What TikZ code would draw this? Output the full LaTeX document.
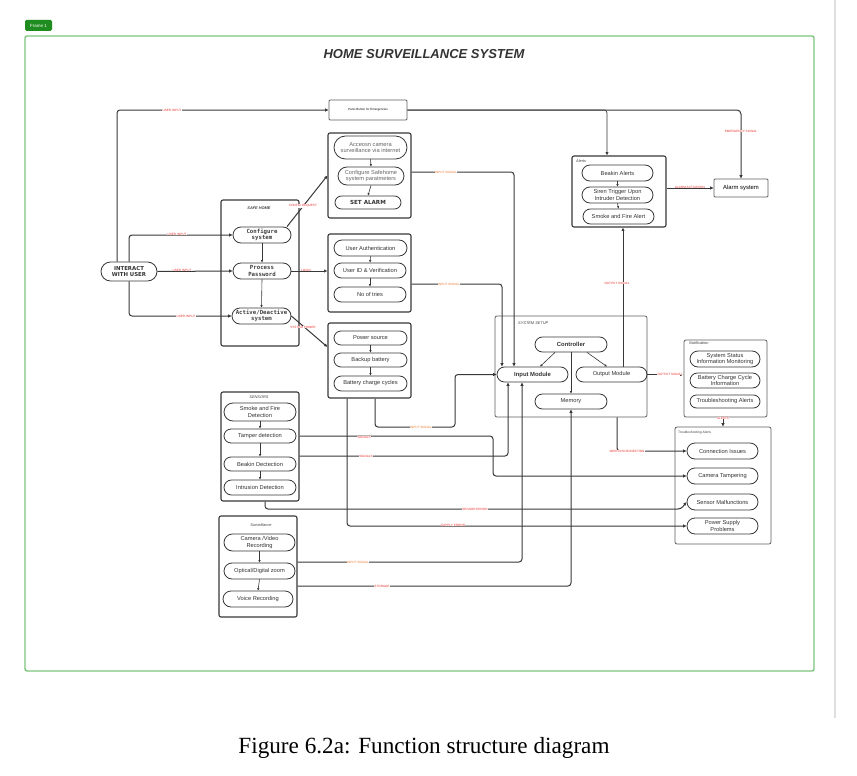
\documentclass[tikz,border=0pt]{standalone}
\usepackage{fontspec}
\setmainfont{Liberation Sans}
\newfontfamily\seriffont{Liberation Serif}
\newfontfamily\monobold{DejaVu Sans Mono}
\newfontfamily\djv{DejaVu Sans}
\usetikzlibrary{shapes.misc,arrows.meta}
\definecolor{ln}{HTML}{383838}
\definecolor{frgreen}{HTML}{7CC47C}
\definecolor{tagreen}{HTML}{1E8C1E}
\definecolor{lblred}{HTML}{E8302A}
\definecolor{lblorange}{HTML}{E8762A}
\newcommand\bx[7][]{\node[#1, minimum width={(#5-#3)*1pt}, minimum height={(#6-#4)*1pt}] (#2) at ({(#3+#5)/2},{(#4+#6)/2}) {#7};}
\begin{document}
\begin{tikzpicture}[x=1pt,y=-1pt,
  font=\fontsize{5.7}{6.5}\selectfont,
  grp/.style={draw=ln, line width=1.1pt, rounded corners=2pt, inner sep=0pt},
  pill/.style={draw=ln, line width=0.8pt, rounded rectangle, inner sep=0pt, align=center, text=black!80},
  plainbox/.style={draw=ln!80, line width=0.8pt, rounded corners=1pt, inner sep=0pt, align=center},
  conn/.style={draw=ln, line width=1pt, rounded corners=3pt, -{Latex[length=3.4pt,width=3.4pt]}},
  inarr/.style={draw=ln, line width=0.6pt, -{Latex[length=2.4pt,width=2.4pt]}},
  lbl/.style={text=lblred, font=\fontsize{3.1}{3.2}\selectfont, fill=white, inner sep=0.3pt},
  olbl/.style={lbl, text=lblorange},
  glbl/.style={font=\fontsize{3.9}{4}\selectfont\itshape, text=black!75, inner sep=0pt},
  mono/.style={font=\monobold\bfseries\fontsize{5.7}{6.3}\selectfont, text=black!75},
]
\useasboundingbox (0,0) rectangle (857,776);
\fill[white] (0,0) rectangle (857,776);
\draw[gray!25, line width=1.2pt] (835,0) -- (835,718);
% frame
\draw[frgreen, line width=1.4pt, rounded corners=2pt] (25,36) rectangle (814,671);
\node[fill=tagreen, rounded corners=1.5pt, text=white, font=\fontsize{4.5}{5}\selectfont, minimum width=27pt, minimum height=11pt, inner sep=0pt] (tag) at (38.5,25.5) {Frame 1};
% title
\node[font=\bfseries\itshape\fontsize{13}{15}\selectfont, text=black!80] (title) at (424,54) {HOME SURVEILLANCE SYSTEM};
\node[font=\seriffont\fontsize{23.2}{26}\selectfont] (cap) at (424,748) {Figure 6.2a: Function structure diagram};

% panic + alarm
\bx[plainbox, font=\fontsize{3}{3.5}\selectfont]{pb}{329}{100}{407}{120}{Panic Button for Emergencies}
\bx[plainbox, font=\fontsize{5.9}{6.5}\selectfont]{am}{714}{179}{768}{197}{Alarm system}

% access group
\bx[grp]{ag}{328}{133}{411}{218}{}
\bx[pill, text=black!60]{acc}{334}{136}{407}{159}{Acceosn camera\\surveillance via internet}
\bx[pill, text=black!60]{cfgsp}{338}{167}{404}{185}{Configure Safehome\\system paratmeters}
\bx[pill, font=\djv\bfseries\fontsize{5.6}{6}\selectfont]{set}{335}{196}{401}{209}{SET ALARM}
\draw[inarr] (acc.south) -- (cfgsp.north);
\draw[inarr] (cfgsp.south) -- (set.north);

% alerts
\bx[grp]{alr}{572}{156}{666}{227}{}
\node[glbl, anchor=west] (alrl) at (576,161) {Alerts};
\bx[pill]{ba}{582}{165}{653}{181}{Beakin Alerts}
\bx[pill]{st}{582}{187}{653}{203}{Siren Trigger Upon\\Intruder Detection}
\bx[pill]{sfa}{583}{209}{654}{224}{Smoke and Fire Alert}
\draw[inarr] (ba.south) -- (st.north);
\draw[inarr] (st.south) -- (sfa.north);

% safe home
\bx[grp]{sh}{221}{200}{299}{346}{}
\node[glbl, font=\fontsize{3.9}{4}\selectfont\bfseries\itshape] (shl) at (259,208) {SAFE HOME};
\bx[pill, mono]{cs}{233}{227}{291}{243}{Configure\\system}
\bx[pill, mono]{pp}{233}{263}{291}{279}{Process\\Password}
\bx[pill, mono]{ad}{232}{308}{291}{324}{Active/Deactive\\system}
\draw[inarr] (cs.south) -- (pp.north);
\draw[inarr] (pp.south) -- (ad.north);
\bx[pill, font=\djv\bfseries\fontsize{5.4}{6.4}\selectfont]{iu}{101}{262}{157}{281}{INTERACT\\WITH USER}

% auth group
\bx[grp]{au}{328}{234}{411}{312}{}
\bx[pill]{ua}{334}{240}{407}{256}{User Authentication}
\bx[pill]{uid}{334}{263}{406}{278}{User ID \& Verification}
\bx[pill]{tries}{334}{287}{406}{302}{No of tries}
\draw[inarr] (ua.south) -- (uid.north);
\draw[inarr] (uid.south) -- (tries.north);

% power group
\bx[grp]{pw}{328}{323}{411}{398}{}
\bx[pill]{ps}{334}{331}{407}{345}{Power source}
\bx[pill]{bb}{334}{353}{407}{367}{Backup battery}
\bx[pill]{bcc}{334}{376}{407}{391}{Battery charge cycles}
\draw[inarr] (ps.south) -- (bb.north);
\draw[inarr] (bb.south) -- (bcc.north);

% system setup
\bx[grp, draw=ln!80, line width=0.8pt]{ss}{495}{316}{647}{417}{}
\node[glbl, anchor=west] (ssl) at (518,323) {SYSTEM SETUP};
\bx[pill, font=\bfseries\fontsize{5.9}{6.5}\selectfont]{ct}{535}{337}{607}{352}{Controller}
\bx[pill, font=\bfseries\fontsize{5.9}{6.5}\selectfont]{im}{497}{367}{568}{382}{Input Module}
\bx[pill]{om}{576}{367}{647}{382}{Output Module}
\bx[pill]{mem}{535}{394}{607}{409}{Memory}
\draw[inarr] (555,0 |- ct.south) -- (540,0 |- im.north);
\draw[inarr] (587,0 |- ct.south) -- (607,0 |- om.north);
\draw[inarr] (ct.south) -- (mem.north);

% notification
\bx[grp, draw=ln!80, line width=0.8pt]{ntf}{684}{340}{767}{417}{}
\node[glbl, anchor=west] (ntfl) at (689,343) {Notification};
\bx[pill]{ssi}{690}{351}{760}{367}{System Status\\Information Monitoring}
\bx[pill]{bci}{690}{373}{760}{388}{Battery Charge Cycle\\Information}
\bx[pill]{tsa}{690}{395}{760}{408}{Troubleshooting Alerts}

% troubleshooting
\bx[grp, draw=ln!80, line width=0.8pt]{tr}{675}{427}{771}{544}{}
\node[glbl, font=\fontsize{3.3}{4}\selectfont, anchor=west] (trl) at (678,433) {Troubleshooting Alerts};
\bx[pill]{ci}{687}{443}{758}{459}{Connection Issues}
\bx[pill]{ctp}{687}{468}{758}{484}{Camera Tampering}
\bx[pill]{sm}{687}{494}{758}{510}{Sensor Malfunctions}
\bx[pill]{psp}{687}{518}{758}{534}{Power Supply\\Problems}

% sensors
\bx[grp]{sen}{221}{392}{299}{501}{}
\node[glbl] (senl) at (259,397) {SENSORS};
\bx[pill]{sfd}{224}{403}{296}{421}{Smoke and Fire\\Detection}
\bx[pill]{td}{224}{429}{296}{443}{Tamper detection}
\bx[pill]{bd}{224}{457}{296}{471}{Beakin Dectection}
\bx[pill]{idt}{224}{480}{296}{495}{Intrusion Detection}
\draw[inarr] (sfd.south) -- (td.north);
\draw[inarr] (td.south) -- (bd.north);
\draw[inarr] (bd.south) -- (idt.north);

% surveillance
\bx[grp]{sur}{219}{516}{297}{617}{}
\node[glbl] (surl) at (261,525) {Surveillance};
\bx[pill]{cv}{224}{534}{295}{551}{Camera /Video\\Recording}
\bx[pill]{oz}{224}{563}{295}{579}{Optical/Digital zoom}
\bx[pill]{vr}{223}{591}{293}{607}{Voice Recording}
\draw[inarr] (cv.south) -- (oz.north);
\draw[inarr] (oz.south) -- (vr.north);

% ---------- connectors ----------
\draw[conn] (117,0 |- iu.north) |- (pb.west);
\node[lbl] at (172,110) {USER INPUT};
\draw[conn, rounded corners=4pt] (pb.east) -| (am.north);
\draw[conn, line width=0.7pt] (pb.east) -| (607,0 |- alr.north);
\node[lbl] at (741,131) {EMERGENCY SIGNAL};
\draw[conn] (alr.east |- am.west) -- (am.west);
\node[lbl] at (690,187) {ALARM ACTIVATION};

\draw[conn] (iu.north) |- (cs.west);
\node[lbl] at (177,234) {USER INPUT};
\draw[conn] (iu.east) -- (pp.west);
\node[lbl] at (182,270) {USER INPUT};
\draw[conn] (iu.south) |- (ad.west);
\node[lbl] at (186,316) {USER INPUT};

\draw[conn] (287,0 |- cs.north) -- (ag.west);
\node[lbl] at (303,206) {CONFIG REQUEST};
\draw[conn] (pp.east) -- (pp.east -| au.west);
\node[lbl] at (306,270) {LOGIN};
\draw[conn] (ad.east) -- (pw.west |- 0,347);
\node[lbl] at (303,327) {SYSTEM POWER};

\draw[conn] (ag.east |- 0,172) -| (514,0 |- im.north);
\node[olbl] at (446,172) {INPUT SIGNAL};
\draw[conn] (au.east |- 0,284) -| (502,0 |- im.north);
\node[olbl] at (449,284) {INPUT SIGNAL};
\draw[conn] (375,0 |- pw.south) |- (455,427) |- (im.west);
\node[olbl] at (421,427) {INPUT SIGNAL};
\draw[conn] (347,0 |- pw.south) |- (psp.west);
\node[lbl] at (453,525) {SUPPLY ERROR};

\draw[conn] (623,0 |- om.north) -- (623,0 |- alr.south);
\node[lbl] at (617,283) {OUTPUT SIGNAL};
\draw[conn] (om.east) -- (om.east -| ntf.west);
\node[lbl] at (670,374) {OUTPUT SIGNAL};
\draw[conn] (723,0 |- ntf.south) -- (723,0 |- tr.north);
\node[lbl] at (723,418) {ALERTS};
\draw[conn] (617,0 |- ss.south) |- (ci.west);
\node[lbl] at (627,451) {WIRE DISCONNECTION};

\draw[conn] (sen.east |- td.east) -| (493,0 |- ctp.west) -- (ctp.west);
\node[lbl] at (364,437) {SIGNALS};
\draw[conn] (sen.east |- 0,456) -| (508,0 |- im.south);
\node[lbl] at (366,456) {SIGNALS};
\draw[conn] (265,0 |- sen.south) |- (681,509) -- (sm.west);
\node[lbl] at (475,509) {SENSOR ERROR};

\draw[conn] (sur.east |- 0,562) -| (522,0 |- im.south);
\node[olbl] at (358,562) {INPUT SIGNAL};
\draw[conn] (sur.east |- 0,586) -| (mem.south);
\node[lbl] at (382,586) {STORAGE};
\end{tikzpicture}
\end{document}
